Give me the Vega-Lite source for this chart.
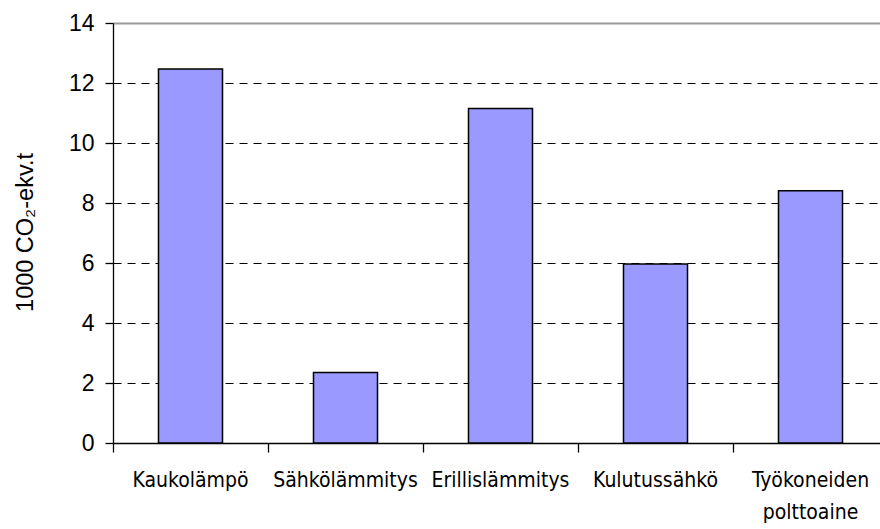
{
  "$schema": "https://vega.github.io/schema/vega-lite/v6.json",
  "autosize": {"type": "none"},
  "padding": {"left": 113, "top": 23, "right": 0, "bottom": 86},
  "width": 767,
  "height": 420,
  "background": "white",
  "config": {"view": {"stroke": null}},
  "data": {"values": [
    {"kategoria": "Kaukolämpö", "arvo": 12.47},
    {"kategoria": "Sähkölämmitys", "arvo": 2.35},
    {"kategoria": "Erillislämmitys", "arvo": 11.15},
    {"kategoria": "Kulutussähkö", "arvo": 5.97},
    {"kategoria": "Työkoneiden polttoaine", "arvo": 8.41}
  ]},
  "mark": {"type": "bar", "fill": "#9999ff", "stroke": "#000000", "strokeWidth": 1.5, "width": {"band": 0.413}},
  "encoding": {
    "x": {
      "field": "kategoria",
      "type": "nominal",
      "sort": null,
      "scale": {"range": [0, 775], "paddingInner": 0, "paddingOuter": 0},
      "axis": {
        "title": null,
        "labelAngle": 0,
        "bandPosition": 0,
        "labelFont": "DejaVu Sans Condensed",
        "labelFontSize": 21,
        "labelColor": "#000000",
        "labelPadding": 17,
        "labelLineHeight": 32,
        "labelExpr": "split(datum.label, ' ')",
        "labelFlush": false,
        "labelOverlap": false,
        "labelLimit": 300,
        "domainColor": "#000000",
        "domainWidth": 1.3,
        "tickColor": "#000000",
        "tickSize": 9,
        "tickWidth": 1.3,
        "grid": false
      }
    },
    "y": {
      "field": "arvo",
      "type": "quantitative",
      "scale": {"domain": [0, 14], "nice": false},
      "axis": {
        "title": "1000 CO₂-ekv.t",
        "titleFont": "Liberation Sans",
        "titleFontSize": 23.5,
        "titleFontWeight": "normal",
        "titleColor": "#000000",
        "titleX": -88,
        "titleY": 209,
        "titleBaseline": "middle",
        "values": [0, 2, 4, 6, 8, 10, 12, 14],
        "labelFont": "Liberation Sans",
        "labelFontSize": 23,
        "labelColor": "#000000",
        "labelPadding": 11,
        "domainColor": "#000000",
        "domainWidth": 1.3,
        "tickColor": "#000000",
        "tickSize": 8,
        "tickWidth": 1.3,
        "grid": true,
        "gridColor": {"condition": {"test": "datum.value === 14", "value": "#9a9a9a"}, "value": "#000000"},
        "gridDash": {"condition": {"test": "datum.value === 14", "value": []}, "value": [8, 6]},
        "gridWidth": {"condition": {"test": "datum.value === 14", "value": 2}, "value": 1},
        "gridOpacity": 1
      }
    }
  }
}
